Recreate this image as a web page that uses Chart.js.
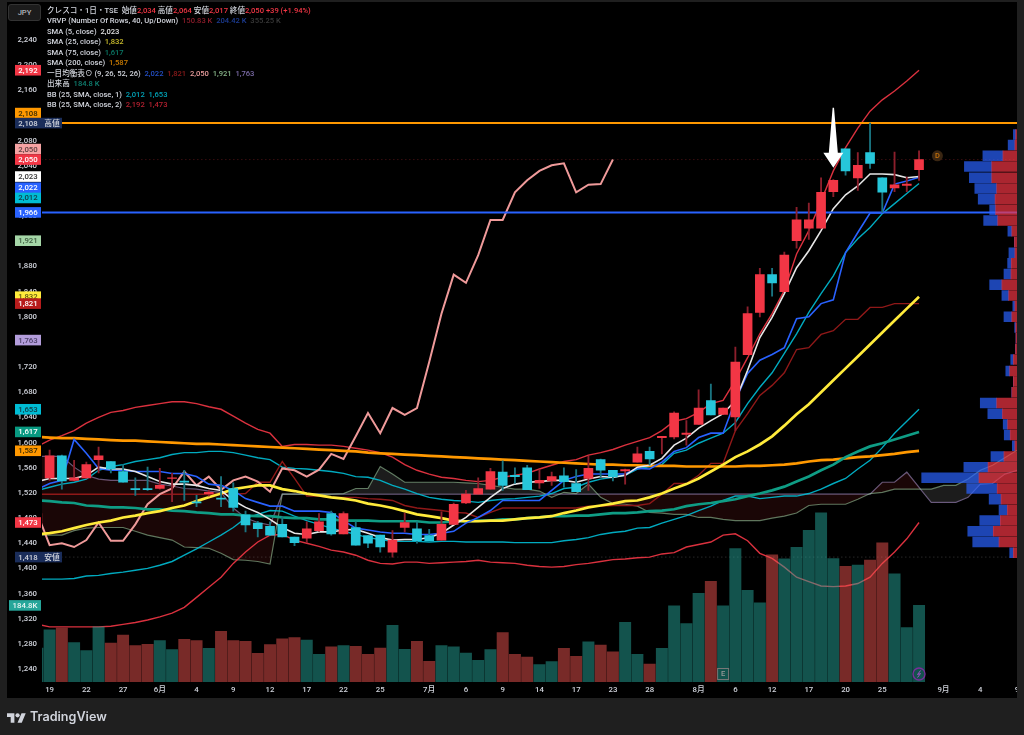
<!DOCTYPE html>
<html lang="ja">
<head>
<meta charset="utf-8">
<title>クレスコ 1日</title>
<script src="https://cdn.jsdelivr.net/npm/chart.js@4"></script>
<style>
    html, body { margin: 0; padding: 0; width: 1024px; height: 735px; overflow: hidden; background: #1f1f1f; }
    canvas { position: absolute; left: 0; top: 0; }
    .txt { font-family: Roboto, 'Noto Sans CJK JP', sans-serif; font-weight: 500; }
    #legend { position: absolute; left: 47px; top: 5.5px; font-size: 7.6px; line-height: 10.5px; color: #d1d4dc; white-space: pre; }
    #jpy { position: absolute; left: 8px; top: 4px; width: 31px; height: 15px; line-height: 15px; text-align: center; font-size: 7.6px; color: #b2b5be; background: #1c1c1c; border: 1px solid #333; border-radius: 3px; }
    #brand { position: absolute; left: 30px; top: 708px; font: 600 12.6px Inter, sans-serif; color: #d1d4dc; line-height: 18px; }
    #logo { position: absolute; left: 7px; top: 713px; }
</style>
</head>
<body>
<canvas id="chart" width="1024" height="735"></canvas>
<div id="legend" class="txt"></div>
<div id="jpy" class="txt">JPY</div>
<svg id="logo" width="19" height="10" viewBox="0 4 36 18"><path fill="#d1d4dc" d="M14 22H7V11H0V4h14v18zM28 22h-8l7.5-18h8L28 22z"/><circle fill="#d1d4dc" cx="20" cy="8" r="4"/></svg>
<div id="brand">TradingView</div>
<script>
// bar 0 is the one just off the left edge, "19" is bar 1
const tickBars = [1, 4, 7, 10, 13, 16, 19, 22, 25, 28, 32, 35, 38, 41, 44, 47, 50, 54, 57, 60, 63, 66, 69, 74, 77, 80];
const tickLabels = ['19', '22', '27', '6月', '4', '9', '12', '17', '22', '25', '7月', '6', '9', '14', '17', '23', '28', '8月', '6', '12', '17', '20', '25', '9月', '4', '9'];

const opens = [1470, 1544, 1579, 1540, 1544, 1573, 1570, 1554, 1527, 1527, 1527, 1543, 1539, 1506, 1519, 1512, 1527, 1485, 1472, 1467, 1470, 1450, 1448, 1460, 1487, 1455, 1465, 1452, 1453, 1426, 1465, 1463, 1452, 1445, 1470, 1504, 1518, 1526, 1553, 1548, 1560, 1536, 1539, 1547, 1535, 1543, 1573, 1556, 1555, 1569, 1586, 1608, 1609, 1613, 1629, 1667, 1645, 1641, 1740, 1807, 1867, 1840, 1921, 1941, 1941, 1999, 2067, 2021, 2061, 2021, 2005, 2009, 2034];
const highs = [1495, 1588, 1580, 1572, 1569, 1593, 1570, 1565, 1544, 1561, 1559, 1551, 1556, 1516, 1524, 1546, 1536, 1491, 1475, 1474, 1482, 1450, 1474, 1487, 1491, 1490, 1474, 1452, 1453, 1460, 1488, 1474, 1462, 1490, 1504, 1524, 1544, 1559, 1571, 1560, 1564, 1557, 1553, 1560, 1557, 1578, 1574, 1556, 1558, 1593, 1593, 1610, 1649, 1635, 1684, 1693, 1655, 1752, 1816, 1877, 1877, 1903, 1974, 1981, 2021, 2018, 2067, 2061, 2108, 2021, 2062, 2022, 2064];
const lows = [1465, 1540, 1526, 1539, 1543, 1552, 1552, 1537, 1516, 1524, 1526, 1506, 1508, 1498, 1515, 1498, 1491, 1458, 1450, 1452, 1450, 1436, 1441, 1459, 1453, 1455, 1437, 1433, 1426, 1418, 1458, 1440, 1444, 1445, 1470, 1503, 1518, 1526, 1524, 1535, 1525, 1527, 1532, 1529, 1522, 1524, 1545, 1539, 1534, 1569, 1564, 1582, 1606, 1596, 1629, 1644, 1645, 1619, 1740, 1800, 1833, 1840, 1909, 1923, 1941, 1991, 2025, 2001, 2036, 1966, 1999, 1999, 2017];
const closes = [1487, 1579, 1539, 1544, 1565, 1579, 1558, 1537, 1525, 1525, 1532, 1544, 1537, 1504, 1521, 1510, 1497, 1469, 1463, 1453, 1450, 1441, 1463, 1474, 1455, 1487, 1437, 1440, 1434, 1445, 1473, 1444, 1444, 1470, 1502, 1518, 1527, 1554, 1532, 1546, 1525, 1540, 1546, 1538, 1522, 1559, 1556, 1546, 1557, 1582, 1574, 1610, 1647, 1615, 1655, 1644, 1655, 1728, 1805, 1867, 1854, 1898, 1954, 1954, 1998, 2017, 2032, 2041, 2044, 1998, 2010, 2011, 2050];

// volume in thousands
const volumes = [82, 126, 130, 95, 76, 133, 94, 113, 88, 91, 100, 78, 103, 100, 81, 122, 100, 98, 69, 90, 104, 107, 101, 67, 85, 88, 86, 67, 82, 137, 79, 98, 50, 88, 85, 70, 52, 78, 119, 67, 60, 42, 49, 81, 62, 97, 89, 73, 144, 67, 43, 81, 184, 141, 214, 243, 184, 322, 221, 191, 307, 297, 325, 366, 408, 298, 279, 282, 294, 336, 261, 131, 184.8];

const sma5 = [1538, 1543, 1543, 1543, 1548, 1561, 1558, 1558, 1554, 1546, 1538, 1534, 1534, 1532, 1527, 1524, 1508, 1497, 1489, 1478, 1465, 1456, 1454, 1458, 1458, 1461, 1462, 1456, 1449, 1445, 1446, 1446, 1449, 1456, 1469, 1481, 1497, 1513, 1527, 1534, 1537, 1538, 1540, 1540, 1537, 1542, 1546, 1545, 1548, 1561, 1564, 1575, 1596, 1607, 1623, 1635, 1646, 1667, 1715, 1767, 1799, 1837, 1878, 1905, 1937, 1972, 1994, 2008, 2027, 2027, 2026, 2021, 2023];
const sma25 = [1454, 1456, 1459, 1464, 1469, 1473, 1476, 1481, 1484, 1488, 1491, 1496, 1500, 1507, 1513, 1519, 1526, 1529, 1532, 1532, 1526, 1523, 1519, 1516, 1513, 1511, 1508, 1503, 1500, 1496, 1491, 1486, 1483, 1480, 1476, 1475, 1475, 1476, 1476, 1478, 1480, 1481, 1483, 1488, 1492, 1497, 1500, 1503, 1507, 1508, 1513, 1519, 1527, 1534, 1543, 1554, 1565, 1577, 1586, 1597, 1610, 1627, 1645, 1661, 1680, 1699, 1718, 1737, 1756, 1775, 1794, 1813, 1832];
const sma75 = [1508, 1507, 1505, 1504, 1500, 1499, 1497, 1497, 1496, 1494, 1494, 1492, 1491, 1489, 1488, 1486, 1486, 1484, 1483, 1483, 1481, 1480, 1480, 1478, 1478, 1476, 1476, 1476, 1475, 1475, 1475, 1475, 1473, 1473, 1475, 1475, 1476, 1476, 1478, 1478, 1480, 1481, 1483, 1483, 1484, 1484, 1486, 1488, 1488, 1489, 1491, 1492, 1494, 1499, 1502, 1504, 1507, 1510, 1515, 1519, 1524, 1530, 1538, 1546, 1556, 1565, 1577, 1586, 1594, 1599, 1605, 1611, 1617];
const sma200 = [1609, 1608, 1607, 1607, 1606, 1605, 1604, 1603, 1603, 1602, 1601, 1600, 1599, 1598, 1598, 1597, 1596, 1595, 1594, 1593, 1592, 1591, 1590, 1589, 1588, 1587, 1586, 1584, 1583, 1582, 1581, 1580, 1579, 1578, 1577, 1576, 1575, 1574, 1573, 1572, 1571, 1570, 1569, 1568, 1567, 1566, 1565, 1565, 1564, 1564, 1563, 1563, 1563, 1562, 1562, 1562, 1562, 1562, 1563, 1563, 1564, 1565, 1567, 1570, 1572, 1573, 1575, 1577, 1578, 1580, 1582, 1585, 1587];

const conversion = [1526, 1535, 1540, 1605, 1583, 1559, 1556, 1556, 1554, 1554, 1554, 1551, 1551, 1546, 1534, 1532, 1524, 1511, 1505, 1499, 1499, 1491, 1491, 1491, 1489, 1476, 1464, 1461, 1458, 1456, 1456, 1454, 1454, 1456, 1459, 1472, 1481, 1492, 1508, 1508, 1508, 1508, 1524, 1540, 1546, 1550, 1550, 1550, 1550, 1559, 1558, 1569, 1586, 1592, 1608, 1615, 1615, 1667, 1710, 1731, 1740, 1751, 1797, 1800, 1821, 1827, 1902, 1934, 1965, 1965, 2011, 2016, 2022];
const baseLine = [1518, 1518, 1518, 1518, 1518, 1518, 1518, 1518, 1518, 1518, 1518, 1518, 1518, 1518, 1518, 1518, 1518, 1519, 1537, 1537, 1570, 1543, 1515, 1515, 1513, 1513, 1513, 1511, 1510, 1508, 1500, 1496, 1494, 1492, 1489, 1488, 1481, 1489, 1496, 1496, 1496, 1496, 1496, 1496, 1496, 1499, 1499, 1500, 1500, 1500, 1503, 1518, 1535, 1535, 1548, 1567, 1567, 1619, 1646, 1675, 1691, 1711, 1748, 1751, 1772, 1778, 1796, 1796, 1815, 1815, 1821, 1821, 1821];
const lagging = [1487, 1437, 1440, 1434, 1445, 1473, 1444, 1444, 1470, 1502, 1518, 1527, 1554, 1532, 1546, 1525, 1540, 1546, 1538, 1522, 1559, 1556, 1546, 1557, 1582, 1574, 1610, 1647, 1615, 1655, 1644, 1655, 1728, 1805, 1867, 1854, 1898, 1954, 1954, 1998, 2017, 2032, 2041, 2044, 1998, 2010, 2011, 2050];
const spanA = [1453, 1453, 1453, 1460, 1464, 1465, 1465, 1465, 1459, 1453, 1449, 1445, 1434, 1433, 1432, 1424, 1414, 1413, 1411, 1407, 1518, 1518, 1518, 1518, 1518, 1519, 1527, 1527, 1562, 1550, 1537, 1537, 1537, 1537, 1537, 1536, 1535, 1532, 1529, 1526, 1526, 1523, 1513, 1521, 1519, 1534, 1513, 1503, 1502, 1499, 1489, 1488, 1486, 1486, 1481, 1481, 1478, 1476, 1476, 1476, 1480, 1483, 1488, 1500, 1502, 1502, 1502, 1510, 1519, 1521, 1526, 1526, 1526, 1526, 1532, 1532, 1542, 1556, 1564, 1576, 1588, 1592];
const spanB = [1578, 1578, 1578, 1561, 1548, 1542, 1540, 1540, 1540, 1540, 1534, 1531, 1527, 1526, 1523, 1521, 1496, 1480, 1473, 1469, 1518, 1518, 1518, 1518, 1518, 1518, 1518, 1518, 1518, 1518, 1518, 1518, 1518, 1518, 1518, 1518, 1518, 1518, 1518, 1518, 1518, 1518, 1518, 1518, 1518, 1518, 1518, 1518, 1518, 1518, 1518, 1518, 1518, 1518, 1518, 1518, 1518, 1518, 1518, 1518, 1518, 1518, 1518, 1518, 1518, 1518, 1518, 1518, 1518, 1537, 1537, 1553, 1529, 1505, 1505, 1505, 1513, 1534, 1535, 1550, 1556, 1561];

const bb1Upper = [1524, 1529, 1534, 1537, 1542, 1556, 1562, 1565, 1570, 1573, 1576, 1581, 1584, 1584, 1586, 1586, 1584, 1580, 1576, 1573, 1561, 1559, 1558, 1556, 1554, 1551, 1546, 1545, 1540, 1532, 1526, 1519, 1513, 1510, 1508, 1507, 1505, 1508, 1510, 1511, 1513, 1515, 1519, 1527, 1529, 1537, 1542, 1545, 1548, 1558, 1562, 1565, 1583, 1588, 1599, 1607, 1615, 1632, 1662, 1688, 1711, 1742, 1773, 1807, 1837, 1865, 1902, 1924, 1942, 1964, 1980, 1996, 2012];
const bb1Lower = [1383, 1383, 1383, 1384, 1388, 1389, 1392, 1394, 1397, 1400, 1405, 1411, 1421, 1431, 1442, 1453, 1465, 1480, 1486, 1492, 1491, 1483, 1476, 1470, 1464, 1459, 1454, 1449, 1446, 1443, 1443, 1443, 1442, 1443, 1443, 1442, 1442, 1442, 1442, 1441, 1441, 1441, 1441, 1444, 1446, 1449, 1454, 1457, 1459, 1464, 1465, 1472, 1478, 1484, 1492, 1499, 1508, 1515, 1515, 1511, 1513, 1515, 1515, 1519, 1526, 1535, 1543, 1558, 1572, 1592, 1615, 1634, 1653];
const bb2Upper = [1594, 1604, 1611, 1619, 1631, 1640, 1648, 1651, 1656, 1659, 1662, 1665, 1665, 1662, 1657, 1653, 1642, 1631, 1621, 1615, 1594, 1597, 1597, 1596, 1596, 1594, 1591, 1588, 1584, 1577, 1565, 1556, 1550, 1545, 1543, 1540, 1538, 1540, 1545, 1548, 1551, 1558, 1564, 1570, 1573, 1580, 1584, 1589, 1596, 1602, 1608, 1619, 1634, 1638, 1648, 1662, 1667, 1699, 1735, 1773, 1805, 1842, 1900, 1937, 1984, 2032, 2069, 2100, 2127, 2145, 2159, 2175, 2192];
const bb2Lower = [1311, 1307, 1307, 1307, 1307, 1307, 1308, 1311, 1314, 1318, 1323, 1329, 1338, 1354, 1370, 1386, 1408, 1426, 1442, 1453, 1454, 1445, 1440, 1435, 1429, 1426, 1421, 1413, 1408, 1407, 1410, 1410, 1408, 1409, 1410, 1411, 1413, 1410, 1409, 1408, 1405, 1403, 1402, 1403, 1406, 1408, 1411, 1414, 1415, 1417, 1418, 1423, 1425, 1434, 1438, 1442, 1453, 1455, 1444, 1424, 1416, 1402, 1386, 1379, 1372, 1371, 1372, 1376, 1386, 1408, 1426, 1447, 1473];

// volume profile rows, top to bottom
const vpPrices = [2090, 2073, 2056, 2039, 2021, 2004, 1987, 1970, 1953, 1936, 1919, 1902, 1885, 1868, 1851, 1834, 1817, 1800, 1783, 1766, 1749, 1732, 1714, 1697, 1680, 1663, 1646, 1629, 1612, 1595, 1578, 1561, 1544, 1527, 1510, 1493, 1476, 1459, 1442, 1425];
const vpUp = [0.5, 0.8, 5.4, 9.7, 9.7, 7.8, 8.4, 8.2, 7.4, 2.0, 1.0, 0.8, 2.2, 2.3, 5.8, 3.2, 0.8, 2.0, 0.5, 0.4, 0.6, 1.4, 2.8, 1.4, 2.0, 7.8, 5.6, 3.6, 2.6, 0.8, 5.0, 11.1, 14.6, 7.6, 6.1, 3.7, 6.4, 9.1, 6.9, 1.4];
const vpDown = [0.9, 2.6, 7.7, 10.5, 8.6, 8.4, 6.5, 2.3, 5.4, 1.5, 0, 2.3, 1.4, 2.7, 4.7, 2.6, 0.8, 3.0, 0.4, 0, 0, 1.0, 1.5, 0, 0, 6.3, 5.6, 1.7, 2.3, 1.0, 5.0, 9.3, 22.0, 11.7, 4.6, 3.2, 7.9, 9.8, 10.1, 1.4];

const dayHigh = 2108;
const dayLow = 1418;
const support = 1966;
const lastClose = 2050;

const legendRows = [
    [['クレスコ・1日・TSE  始値', 0], ['2,034', '#f23645'], [' 高値', 0], ['2,064', '#f23645'], [' 安値', 0], ['2,017', '#f23645'], [' 終値', 0], ['2,050', '#f23645'], [' +39 (+1.94%)', '#f23645']],
    [['VRVP (Number Of Rows, 40, Up/Down)  ', 0], ['150.83 K', '#8a1c2a'], ['  204.42 K', '#1c3c94'], ['  355.25 K', '#3a3a3a']],
    [['SMA (5, close)  ', 0], ['2,023', '#e0e0e0']],
    [['SMA (25, close)  ', 0], ['1,832', '#c9bb2c']],
    [['SMA (75, close)  ', 0], ['1,617', '#0a7a68']],
    [['SMA (200, close)  ', 0], ['1,587', '#c87a00']],
    [['一目均衡表⊙ (9, 26, 52, 26)  ', 0], ['2,022', '#2450c8'], ['  1,821', '#8c1a1a'], ['  2,050', '#e89c9c'], ['  1,921', '#86b488'], ['  1,763', '#7c6ca8']],
    [['出来高  ', 0], ['184.8 K', '#0f7f70']],
    [['BB (25, SMA, close, 1)  ', 0], ['2,012', '#00a3b8'], ['  1,653', '#00a3b8']],
    [['BB (25, SMA, close, 2)  ', 0], ['2,192', '#b3202f'], ['  1,473', '#b3202f']],
];

// price tags on the axis, shift moves a tag off its level when tags would collide
const priceTags = [
    { text: '2,192', value: 2192, bg: '#f23645', fg: '#fff' },
    { text: '2,108', value: dayHigh, shift: -10, bg: '#ff9800', fg: '#3a2a00' },
    { text: '2,108', value: dayHigh, bg: '#1a2d5a', fg: '#d1d4dc', side: '高値' },
    { text: '2,050', value: lastClose, shift: -10.5, bg: '#f5a3a3', fg: '#5a4040' },
    { text: '2,050', value: lastClose, bg: '#f23645', fg: '#fff' },
    { text: '2,023', value: 2023, bg: '#ffffff', fg: '#333' },
    { text: '2,022', value: 2022, shift: 10.5, bg: '#2962ff', fg: '#fff' },
    { text: '2,012', value: 2012, shift: 14.5, bg: '#00bcd4', fg: '#103a44' },
    { text: '1,966', value: support, bg: '#2962ff', fg: '#fff' },
    { text: '1,921', value: 1921, bg: '#a5d6a7', fg: '#3c5a3e' },
    { text: '1,832', value: 1832, bg: '#ffeb3b', fg: '#5c5410' },
    { text: '1,821', value: 1821, bg: '#b71c1c', fg: '#fff' },
    { text: '1,763', value: 1763, bg: '#b39ddb', fg: '#4a3f66' },
    { text: '1,653', value: 1653, bg: '#00bcd4', fg: '#103a44' },
    { text: '1,617', value: 1617, bg: '#089981', fg: '#fff' },
    { text: '1,587', value: 1587, bg: '#ff9800', fg: '#3a2a00' },
    { text: '1,473', value: 1473, bg: '#f23645', fg: '#fff' },
    { text: '1,418', value: dayLow, bg: '#1a2d5a', fg: '#d1d4dc', side: '安値' },
];

const FONT = "Roboto, 'Noto Sans CJK JP', sans-serif";
const RED = '#f23645';
const CYAN = '#26c6da';
const lastBar = opens.length - 1;

document.getElementById('legend').innerHTML = legendRows.map(row =>
    '<div>' + row.map(p => p[1] ? '<span style="color:' + p[1] + '">' + p[0] + '</span>' : p[0]).join('') + '</div>'
).join('');

function isUp(i) {
    return closes[i] >= opens[i];
}

function line(values, color, width, order, extra) {
    return Object.assign({
        type: 'line',
        data: values.map((v, i) => ({ x: i, y: v })),
        borderColor: color,
        borderWidth: width,
        pointRadius: 0,
        tension: 0,
        fill: false,
        order: order,
        xAxisID: 'x',
        yAxisID: 'y',
    }, extra);
}

function level(value, color, width, order, dash) {
    return {
        type: 'line',
        data: [{ x: 0, y: value }, { x: 80, y: value }],
        borderColor: color,
        borderWidth: width,
        borderDash: dash || [],
        pointRadius: 0,
        fill: false,
        order: order,
        xAxisID: 'x',
        yAxisID: 'y',
    };
}

const datasets = [
    line(spanB, 'rgba(179,157,219,.6)', 1.2, 30),
    line(spanA, 'rgba(165,214,167,.55)', 1.2, 29, {
        fill: { target: '-1', above: 'rgba(70,70,70,.4)', below: 'rgba(130,30,30,.2)' },
    }),
    line(bb2Lower, 'rgba(242,54,69,.9)', 1.4, 24),
    line(bb2Upper, 'rgba(242,54,69,.9)', 1.4, 24),
    line(bb1Lower, 'rgba(0,188,212,.9)', 1.4, 23),
    line(bb1Upper, 'rgba(0,188,212,.9)', 1.4, 23),
    line(baseLine, '#8f1818', 1.4, 22),
    line(lagging, '#ef9a9a', 2, 21),
    line(sma200, '#ff9800', 2.7, 20),
    line(sma75, '#0f9d85', 2.7, 19),
    line(sma25, '#ffeb3b', 2.7, 18),
    line(conversion, '#2962ff', 1.6, 17),
    line(sma5, '#e6e6e6', 1.6, 16),
    level(lastClose, 'rgba(242,54,69,.35)', 1, 25, [1, 3]),
    level(dayLow, 'rgba(150,150,150,.4)', 1, 25, [1, 3]),
    level(dayHigh, '#ff9800', 2, 15),
    level(support, '#2962ff', 2, 15),
    {
        type: 'bar',
        data: highs.map((h, i) => ({ x: i, y: [lows[i], h] })),
        backgroundColor: highs.map((h, i) => isUp(i) ? '#8c1f2c' : '#1a7480'),
        barThickness: 1.2,
        grouped: false,
        order: 12,
        xAxisID: 'x',
        yAxisID: 'y',
    },
    {
        type: 'bar',
        data: opens.map((o, i) => ({ x: i, y: [o, closes[i]] })),
        backgroundColor: opens.map((o, i) => isUp(i) ? RED : CYAN),
        barThickness: 9,
        grouped: false,
        order: 11,
        xAxisID: 'x',
        yAxisID: 'y',
    },
    {
        type: 'bar',
        data: volumes.map((v, i) => ({ x: i, y: v })),
        // volume colours run the other way round from the candles on this chart
        backgroundColor: volumes.map((v, i) => isUp(i) ? 'rgba(38,166,154,.5)' : 'rgba(239,83,80,.5)'),
        barThickness: 11.3,
        grouped: false,
        order: 10,
        xAxisID: 'x',
        yAxisID: 'v',
    },
    {
        type: 'bar',
        indexAxis: 'y',
        data: vpPrices.map((p, i) => ({ x: [0, vpUp[i]], y: p })),
        backgroundColor: 'rgba(242,54,69,.7)',
        barThickness: 9.8,
        grouped: false,
        order: 5,
        xAxisID: 'vp',
        yAxisID: 'y',
    },
    {
        type: 'bar',
        indexAxis: 'y',
        data: vpPrices.map((p, i) => ({ x: [vpUp[i], vpUp[i] + vpDown[i]], y: p })),
        backgroundColor: 'rgba(41,98,255,.7)',
        barThickness: 9.8,
        grouped: false,
        order: 5,
        xAxisID: 'vp',
        yAxisID: 'y',
    },
];

const overlay = {
    id: 'overlay',
    beforeDraw(chart) {
        const c = chart.ctx;
        c.fillStyle = '#000';
        c.fillRect(7, 2, 1010, 696);
    },
    afterDraw(chart) {
        const c = chart.ctx;
        const x = chart.scales.x;
        const y = chart.scales.y;
        const v = chart.scales.v;

        // right side frame, cuts the last date label like the original
        c.fillStyle = '#1f1f1f';
        c.fillRect(1017, 0, 7, 700);

        c.textBaseline = 'middle';
        c.textAlign = 'center';
        c.font = '500 7.8px ' + FONT;
        priceTags.forEach(t => {
            const py = y.getPixelForValue(t.value) + (t.shift || 0);
            c.fillStyle = t.bg;
            c.fillRect(15, py - 5.3, t.side ? 47 : 26, 10.6);
            c.fillStyle = t.fg;
            c.fillText(t.text, 28, py + 0.5);
            if (t.side) {
                c.fillText(t.side, 52, py + 0.5);
            }
        });

        // volume tag
        const vy = v.getPixelForValue(volumes[lastBar]);
        c.fillStyle = '#26a69a';
        c.fillRect(9, vy - 5.3, 32, 10.6);
        c.fillStyle = '#e8f5f3';
        c.fillText('184.8K', 25, vy + 0.5);

        // white arrow over bar 65
        const ax = x.getPixelForValue(65);
        const tip = y.getPixelForValue(2037);
        c.fillStyle = '#fff';
        c.beginPath();
        c.moveTo(ax, tip);
        c.lineTo(ax - 10, tip - 15);
        c.lineTo(ax - 4.5, tip - 15);
        c.lineTo(ax - 0.7, tip - 60);
        c.lineTo(ax + 0.7, tip - 60);
        c.lineTo(ax + 4.5, tip - 15);
        c.lineTo(ax + 10, tip - 15);
        c.closePath();
        c.fill();

        // dividend mark
        const dx = x.getPixelForValue(73.5);
        const dy = y.getPixelForValue(2056);
        c.fillStyle = '#3a2612';
        c.beginPath();
        c.arc(dx, dy, 5.5, 0, Math.PI * 2);
        c.fill();
        c.fillStyle = '#c8720a';
        c.font = '500 7.5px ' + FONT;
        c.fillText('D', dx, dy + 0.5);

        // earnings mark
        const ex = x.getPixelForValue(56);
        c.strokeStyle = '#777';
        c.lineWidth = 1;
        c.strokeRect(ex - 5.5, 668.5, 11, 11);
        c.fillStyle = '#999';
        c.fillText('E', ex, 674.5);

        // lightning mark on the last bar
        const lx = x.getPixelForValue(lastBar);
        c.strokeStyle = '#7b2d9b';
        c.lineWidth = 1.3;
        c.beginPath();
        c.arc(lx, 674, 6, 0, Math.PI * 2);
        c.stroke();
        c.strokeStyle = '#a24fc7';
        c.lineWidth = 1;
        c.beginPath();
        c.moveTo(lx + 1.5, 670.5);
        c.lineTo(lx - 1.5, 674.5);
        c.lineTo(lx + 1.5, 673.5);
        c.lineTo(lx - 1.5, 677.5);
        c.stroke();
    },
};

new Chart(document.getElementById('chart'), {
    type: 'bar',
    data: { datasets: datasets },
    plugins: [overlay],
    options: {
        responsive: false,
        animation: false,
        layout: { padding: { left: 7, right: 7, top: 6, bottom: 37 } },
        plugins: { legend: { display: false }, tooltip: { enabled: false } },
        scales: {
            x: {
                type: 'linear',
                position: 'bottom',
                offset: false,
                min: 0.379,
                max: 80,
                grid: { display: false, offset: false, drawTicks: false },
                border: { display: false },
                afterFit: s => { s.height = 16; },
                afterBuildTicks: s => { s.ticks = tickBars.map(b => ({ value: b })); },
                ticks: {
                    autoSkip: false,
                    maxRotation: 0,
                    padding: 3,
                    color: '#d1d4dc',
                    font: { size: 7.8, family: FONT, weight: '500' },
                    callback: value => tickLabels[tickBars.indexOf(value)],
                },
            },
            y: {
                type: 'linear',
                position: 'left',
                offset: false,
                min: 1219.4,
                max: 2288.3,
                grid: { display: false, offset: false, drawTicks: false },
                border: { display: false },
                afterFit: s => { s.width = 35; },
                ticks: {
                    stepSize: 40,
                    includeBounds: false,
                    autoSkip: false,
                    padding: 5,
                    color: '#d1d4dc',
                    font: { size: 7.8, family: FONT, weight: '500' },
                    callback: value => value.toLocaleString('en-US'),
                },
            },
            v: { type: 'linear', display: false, offset: false, min: 0, max: 1622 },
            vp: { type: 'linear', display: false, offset: false, axis: 'x', position: 'bottom', reverse: true, min: 0, max: 374.4 },
        },
    },
});
</script>
</body>
</html>
